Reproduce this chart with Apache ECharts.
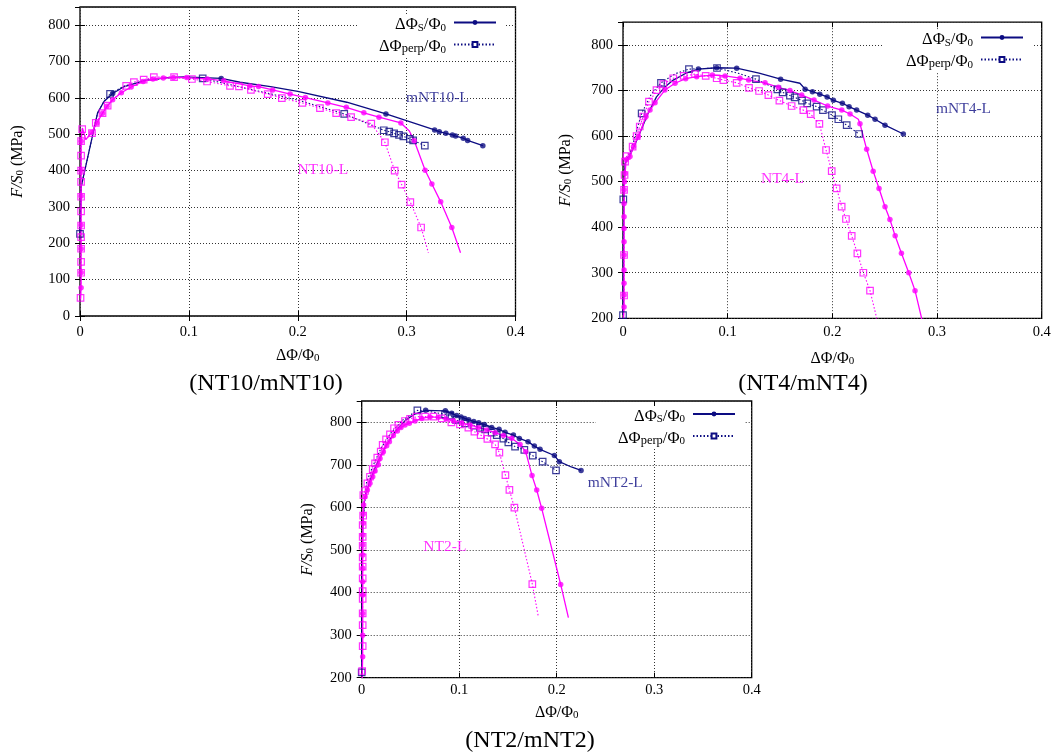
<!DOCTYPE html>
<html>
<head>
<meta charset="utf-8">
<script src="https://cdn.jsdelivr.net/npm/echarts@6/dist/echarts.min.js"></script>
<style>
html,body{margin:0;padding:0;background:#fff;}
#c{width:1054px;height:753px;}
</style>
</head>
<body>
<div id="c"></div>
<script>
// ---------- DATA ----------
// Plot 1 (NT10 / mNT10)
const mnt10S_line = [[0,226],[0.0012,357],[0.0161,558],[0.022,590],[0.030,612],[0.04,630],[0.06,648],[0.08,656],[0.095,658],[0.1297,653.5],[0.147,643],[0.175,631],[0.2,618],[0.245,588],[0.281,556],[0.3257,511.7],[0.330,507],[0.336,502.5],[0.342,498],[0.345,495],[0.352,489],[0.356,483],[0.370,468.6]];
const mnt10S_marks = [[0.030,612],[0.1297,653.5],[0.281,556],[0.3257,511.7],[0.330,507],[0.336,502.5],[0.342,498],[0.345,495],[0.352,489],[0.356,483],[0.370,468.6]];
const mnt10P_line = [[0,226],[0.0012,357],[0.0161,558],[0.022,590],[0.0276,611],[0.04,632],[0.06,648],[0.085,656],[0.1127,653.5],[0.15,628],[0.2,594],[0.2427,556],[0.279,511],[0.284,507],[0.2885,502.5],[0.293,498],[0.297,494],[0.303,487],[0.306,483],[0.3167,468.6]];
const mnt10P_marks = [[0,226],[0.0276,611],[0.1127,653.5],[0.2427,556],[0.279,511],[0.284,507],[0.2885,502.5],[0.293,498],[0.297,494],[0.303,487],[0.306,483],[0.3167,468.6]];
const nt10S_line = [[0.0005,45],[0.001,78],[0.001,120],[0.001,185],[0.001,250],[0.001,330],[0.001,400],[0.001,481],[0.0022,517],[0.0053,485],[0.0108,505],[0.0155,531],[0.0207,558],[0.0248,577],[0.030,595],[0.038,614],[0.047,630],[0.058,645],[0.067,652],[0.0765,654.5],[0.0858,656],[0.098,656],[0.117,652],[0.132,647],[0.156,633],[0.164,631],[0.177,622],[0.193,610.5],[0.207,601],[0.2276,586],[0.2446,574],[0.2607,559],[0.2746,547],[0.2947,531],[0.3025,509],[0.307,482],[0.317,401],[0.3232,363],[0.3313,314],[0.3415,243.5],[0.3495,174]];
const nt10S_marks = [[0.001,78],[0.001,120],[0.001,185],[0.001,250],[0.001,330],[0.001,400],[0.001,481],[0.0108,505],[0.0155,531],[0.0207,558],[0.0248,577],[0.030,595],[0.038,614],[0.047,630],[0.058,645],[0.067,652],[0.0765,654.5],[0.0858,656],[0.098,656],[0.117,652],[0.132,647],[0.156,633],[0.164,631],[0.177,622],[0.193,610.5],[0.207,601],[0.2276,586],[0.2446,574],[0.2607,559],[0.2746,547],[0.2947,531],[0.307,482],[0.317,401],[0.3232,363],[0.3313,314],[0.3415,243.5]];
const nt10P_line = [[0.0005,50],[0.001,119],[0.001,149],[0.001,185],[0.001,217],[0.001,249],[0.001,288],[0.001,328],[0.001,369],[0.001,400],[0.001,441],[0.001,481],[0.002,514],[0.0055,487],[0.011,503],[0.0145,531],[0.0207,558],[0.0254,578.5],[0.032,600],[0.0424,633],[0.0495,643.5],[0.0585,650],[0.0678,657],[0.0864,657],[0.1028,652],[0.1167,645],[0.1378,633],[0.146,631.5],[0.157,622],[0.1724,610.5],[0.1854,599.5],[0.2043,586],[0.2204,572],[0.2353,558],[0.249,547],[0.2675,529],[0.28,478],[0.289,400],[0.2954,361.5],[0.3034,313],[0.3133,243.5],[0.320,174]];
const nt10P_marks = [[0.0005,50],[0.001,119],[0.001,149],[0.001,185],[0.001,217],[0.001,249],[0.001,288],[0.001,328],[0.001,369],[0.001,400],[0.001,441],[0.001,481],[0.002,514],[0.011,503],[0.0145,531],[0.0207,558],[0.0254,578.5],[0.0424,633],[0.0495,643.5],[0.0585,650],[0.0678,657],[0.0864,657],[0.1028,652],[0.1167,645],[0.1378,633],[0.146,631.5],[0.157,622],[0.1724,610.5],[0.1854,599.5],[0.2043,586],[0.2204,572],[0.2353,558],[0.249,547],[0.2675,529],[0.28,478],[0.289,400],[0.2954,361.5],[0.3034,313],[0.3133,243.5]];

// Plot 2 (NT4 / mNT4)
const mnt4S_line = [[0,207],[0.0008,480],[0.002,540],[0.0067,558.5],[0.012,585],[0.016,606],[0.024,650],[0.032,686],[0.040,708],[0.048,723],[0.061,739],[0.072,747],[0.0895,750],[0.1086,749],[0.13,738],[0.1506,725],[0.169,716],[0.174,703],[0.181,697.5],[0.188,692],[0.195,686],[0.201,678.5],[0.2096,672],[0.216,664.6],[0.2232,657],[0.2338,646],[0.2408,637],[0.2503,624],[0.2678,604.6]];
const mnt4S_marks = [[0.072,747],[0.0895,750],[0.1086,749],[0.1506,725],[0.174,703],[0.181,697.5],[0.188,692],[0.195,686],[0.201,678.5],[0.2096,672],[0.216,664.6],[0.2232,657],[0.2338,646],[0.2408,637],[0.2503,624],[0.2678,604.6]];
const mnt4P_line = [[0,207],[0.0003,461],[0.002,540],[0.008,572],[0.0178,650],[0.027,692],[0.0363,717],[0.05,737],[0.063,747],[0.0898,749.5],[0.11,738],[0.127,725],[0.1475,702.7],[0.1525,696],[0.1595,689],[0.164,685],[0.171,678],[0.176,672],[0.185,664.6],[0.191,657],[0.1997,646],[0.2057,637],[0.2137,624],[0.2255,604.6]];
const mnt4P_marks = [[0,207],[0.0003,461],[0.0178,650],[0.0363,717],[0.063,747],[0.0898,749.5],[0.127,725],[0.1475,702.7],[0.1525,696],[0.1595,689],[0.164,685],[0.171,678],[0.176,672],[0.185,664.6],[0.191,657],[0.1997,646],[0.2057,637],[0.2137,624],[0.2255,604.6]];
const nt4S_line = [[0.0005,200],[0.001,225],[0.001,251],[0.001,277],[0.001,306],[0.001,339],[0.001,368],[0.001,397],[0.001,423],[0.001,452],[0.001,482],[0.0015,500],[0.002,518],[0.003,548],[0.0067,555],[0.01,577],[0.0146,599],[0.022,643],[0.0258,657],[0.0306,673],[0.040,701],[0.0497,716],[0.0599,726],[0.0704,730.5],[0.0854,734],[0.0975,732],[0.1118,727],[0.12,723],[0.1357,717],[0.1484,707],[0.1595,700],[0.1707,690],[0.1825,679],[0.1955,666],[0.209,657],[0.2169,648.5],[0.2248,637],[0.2264,627],[0.2328,571],[0.239,523],[0.2446,485],[0.2503,445],[0.255,417],[0.26,381],[0.266,342.7],[0.273,300],[0.279,260.7],[0.2853,200],[0.2883,170]];
const nt4S_marks = [[0.001,225],[0.001,251],[0.001,277],[0.001,306],[0.001,339],[0.001,368],[0.001,397],[0.001,423],[0.001,452],[0.001,482],[0.0015,500],[0.002,518],[0.003,548],[0.0067,555],[0.01,577],[0.0146,599],[0.022,643],[0.0258,657],[0.0306,673],[0.040,701],[0.0497,716],[0.0599,726],[0.0704,730.5],[0.0854,734],[0.0975,732],[0.1118,727],[0.12,723],[0.1357,717],[0.1484,707],[0.1595,700],[0.1707,690],[0.1825,679],[0.1955,666],[0.209,657],[0.2169,648.5],[0.2264,627],[0.2328,571],[0.239,523],[0.2446,485],[0.2503,445],[0.255,417],[0.26,381],[0.266,342.7],[0.273,300],[0.279,260.7]];
const nt4P_line = [[0.0005,200],[0.001,250],[0.001,339],[0.001,482],[0.0015,514.6],[0.002,544],[0.0035,556],[0.0092,577],[0.013,600],[0.016,621],[0.0194,643],[0.0248,675.6],[0.03,692],[0.032,701],[0.0385,714],[0.048,727],[0.058,732],[0.0688,736],[0.079,732],[0.0895,727],[0.0959,723],[0.1086,717],[0.1204,706],[0.13,699],[0.1389,690],[0.1494,678],[0.1611,666],[0.1723,657],[0.1793,648],[0.1876,626.6],[0.194,569.5],[0.1994,523],[0.2041,485],[0.2089,445],[0.213,418],[0.2185,381],[0.2239,342.7],[0.2296,300],[0.236,260.7],[0.2424,200],[0.2445,170]];
const nt4P_marks = [[0.001,250],[0.001,339],[0.001,482],[0.0015,514.6],[0.002,544],[0.0035,556],[0.0092,577],[0.013,600],[0.016,621],[0.0194,643],[0.0248,675.6],[0.032,701],[0.0385,714],[0.048,727],[0.058,732],[0.0688,736],[0.079,732],[0.0895,727],[0.0959,723],[0.1086,717],[0.1204,706],[0.13,699],[0.1389,690],[0.1494,678],[0.1611,666],[0.1723,657],[0.1793,648],[0.1876,626.6],[0.194,569.5],[0.1994,523],[0.2041,485],[0.2089,445],[0.213,418],[0.2185,381],[0.2239,342.7],[0.2296,300],[0.236,260.7]];

// Plot 3 (NT2 / mNT2)
const mnt2S_line = [[0,214],[0.0005,450],[0.001,560],[0.003,620],[0.008,660],[0.015,700],[0.025,745],[0.035,780],[0.045,805],[0.055,820],[0.0656,828],[0.0858,827],[0.0923,821],[0.0974,815.7],[0.1019,812.5],[0.1056,809],[0.1097,806],[0.1149,802],[0.12,799],[0.1258,795],[0.1333,788],[0.1409,783.5],[0.147,776.5],[0.1556,770],[0.1617,762],[0.1706,754.5],[0.1771,744],[0.1829,736.5],[0.1976,722],[0.2027,707.5],[0.215,695],[0.225,687]];
const mnt2S_marks = [[0.0656,828],[0.0858,827],[0.0923,821],[0.0974,815.7],[0.1019,812.5],[0.1056,809],[0.1097,806],[0.1149,802],[0.12,799],[0.1258,795],[0.1333,788],[0.1409,783.5],[0.147,776.5],[0.1556,770],[0.1617,762],[0.1706,754.5],[0.1771,744],[0.1829,736.5],[0.1976,722],[0.2027,707.5],[0.225,687]];
const mnt2P_line = [[0,212.5],[0.0005,450],[0.001,560],[0.005,660],[0.012,700],[0.02,740],[0.03,775],[0.042,805],[0.0571,828],[0.07,825],[0.0855,818.8],[0.0906,815.7],[0.0968,805.5],[0.106,797.6],[0.1152,792],[0.1214,787],[0.1265,783.5],[0.1333,775.7],[0.1385,770],[0.1453,761.6],[0.1504,753],[0.1573,742.8],[0.1668,735],[0.1754,721.6],[0.1856,707.5],[0.1993,687]];
const mnt2P_marks = [[0,212.5],[0.0571,828],[0.0855,818.8],[0.0906,815.7],[0.0968,805.5],[0.106,797.6],[0.1152,792],[0.1214,787],[0.1265,783.5],[0.1333,775.7],[0.1385,770],[0.1453,761.6],[0.1504,753],[0.1573,742.8],[0.1668,735],[0.1754,721.6],[0.1856,707.5],[0.1993,687]];
const nt2S_line = [[0.0005,200],[0.001,249],[0.001,300],[0.001,351],[0.001,394],[0.001,425.6],[0.001,457],[0.001,488],[0.001,512],[0.001,535],[0.0015,562.6],[0.0015,584],[0.002,605.7],[0.0024,609.6],[0.0034,625],[0.0058,641],[0.0085,656.6],[0.0113,672],[0.0137,685.6],[0.0171,700],[0.0188,715],[0.0222,731],[0.0256,745],[0.0284,754.5],[0.0325,768.7],[0.0366,779.6],[0.0403,787.5],[0.0444,793.7],[0.0489,797.6],[0.0547,803],[0.0615,809],[0.07,812.5],[0.0786,811.7],[0.0865,807.8],[0.094,803],[0.1026,798],[0.1111,793.7],[0.1197,788],[0.1282,782],[0.1368,775.7],[0.1453,768.7],[0.1538,762.4],[0.1624,748],[0.1682,731],[0.1747,674.7],[0.1795,641],[0.1846,597.9],[0.2041,419],[0.212,341]];
const nt2S_marks = [[0.001,249],[0.001,300],[0.001,351],[0.001,394],[0.001,425.6],[0.001,457],[0.001,488],[0.001,512],[0.001,535],[0.0015,562.6],[0.0015,584],[0.002,605.7],[0.0034,625],[0.0058,641],[0.0085,656.6],[0.0113,672],[0.0137,685.6],[0.0171,700],[0.0188,715],[0.0222,731],[0.0256,745],[0.0284,754.5],[0.0325,768.7],[0.0366,779.6],[0.0403,787.5],[0.0444,793.7],[0.0489,797.6],[0.0547,803],[0.0615,809],[0.07,812.5],[0.0786,811.7],[0.0865,807.8],[0.094,803],[0.1026,798],[0.1111,793.7],[0.1197,788],[0.1282,782],[0.1368,775.7],[0.1453,768.7],[0.1538,762.4],[0.1624,748],[0.1682,731],[0.1747,674.7],[0.1795,641],[0.1846,597.9],[0.2041,419]];
const nt2P_line = [[0.0005,200],[0.0005,215.7],[0.001,274],[0.001,323.7],[0.001,351],[0.001,385],[0.001,403.6],[0.001,433.4],[0.001,460.8],[0.001,482.8],[0.001,510],[0.001,531],[0.001,558.7],[0.0015,580.7],[0.0017,629],[0.0034,638.6],[0.0058,656.6],[0.0085,672],[0.0113,690],[0.0137,703.6],[0.016,717],[0.0195,731],[0.0215,746.7],[0.025,760],[0.029,771.8],[0.0332,786],[0.0376,793.7],[0.0444,803],[0.0496,808],[0.0564,813.3],[0.065,813.3],[0.0735,813.3],[0.082,809.4],[0.092,800],[0.1008,795],[0.1094,787.5],[0.1156,778],[0.122,770],[0.1289,760.8],[0.1368,748],[0.1412,728.7],[0.1474,676],[0.1515,641],[0.1566,599.5],[0.175,420],[0.1812,343]];
const nt2P_marks = [[0.0005,215.7],[0.001,274],[0.001,323.7],[0.001,351],[0.001,385],[0.001,403.6],[0.001,433.4],[0.001,460.8],[0.001,482.8],[0.001,510],[0.001,531],[0.001,558.7],[0.0015,580.7],[0.0017,629],[0.0034,638.6],[0.0058,656.6],[0.0085,672],[0.0113,690],[0.0137,703.6],[0.016,717],[0.0195,731],[0.0215,746.7],[0.025,760],[0.029,771.8],[0.0332,786],[0.0376,793.7],[0.0444,803],[0.0496,808],[0.0564,813.3],[0.065,813.3],[0.0735,813.3],[0.082,809.4],[0.092,800],[0.1008,795],[0.1094,787.5],[0.1156,778],[0.122,770],[0.1289,760.8],[0.1368,748],[0.1412,728.7],[0.1474,676],[0.1515,641],[0.1566,599.5],[0.175,420]];

// Curve annotations [text, x, y]
const labels10 = [['mNT10-L',0.2994,598.6],['NT10-L',0.1997,401]];
const labels4 = [['mNT4-L',0.299,658.8],['NT4-L',0.1318,507]];
const labels2 = [['mNT2-L',0.2318,656.6],['NT2-L',0.0632,507.8]];

// Panel titles and axis ranges
const panelTitles = ['(NT10/mNT10)','(NT4/mNT4)','(NT2/mNT2)'];
const yMins = [0,200,200];
const yMax = 850;
const xTicks = {min:0, max:0.4, interval:0.1};

// ---------- CHART ----------
const FONT = "'Liberation Serif','DejaVu Serif','Times New Roman',serif";
const NAVY = '#0c0c82';
const MAG = '#ff00ff';

const grids = [
  {left:80, right:538.5, top:7, bottom:437},
  {left:623, right:12.3, top:22.2, bottom:434.7},
  {left:361.7, right:302.3, top:401, bottom:75.3}
];
const xNameGap = [28,28,23];
const xLabelMargin = [9,6,5];
const yNameGap = [54,49,46];
const legendPos = [{right:549, top:14.5},{right:22, top:29.5},{right:310, top:406}];
const titlePos = [[266,384],[803,384],[530,741]];

const richMain = {
  m:{fontFamily:FONT,fontSize:16.5,lineHeight:22,verticalAlign:'bottom',color:'#000'},
  s:{fontFamily:FONT,fontSize:11,lineHeight:14,verticalAlign:'bottom',color:'#000'},
  p:{fontFamily:FONT,fontSize:12.5,lineHeight:14,verticalAlign:'bottom',color:'#000'},
  e:{fontFamily:FONT,fontSize:11,lineHeight:14,verticalAlign:'bottom',color:'#000',padding:[0,3,0,0]}
};
const richAxis = {
  m:{fontFamily:FONT,fontSize:16,lineHeight:20,verticalAlign:'bottom',color:'#000'},
  i:{fontFamily:FONT,fontSize:16,lineHeight:20,verticalAlign:'bottom',color:'#000',fontStyle:'italic'},
  s:{fontFamily:FONT,fontSize:11,lineHeight:13,verticalAlign:'bottom',color:'#000'}
};

function lineS(name, data, gi, color, dotted){
  return {type:'line', name, xAxisIndex:gi, yAxisIndex:gi, data,
    showSymbol:false, symbol: dotted ? 'rect' : 'circle', silent:true,
    lineStyle:{color, width: dotted ? 1.1 : 1.3, type: dotted ? [1.5,2] : 'solid'},
    itemStyle: dotted ? {color:'#fff', borderColor:color, borderWidth:1.2} : {color},
    z:2, animation:false};
}
function markS(name, data, gi, color, square){
  return {type:'scatter', name, xAxisIndex:gi, yAxisIndex:gi, data, silent:true,
    symbol: square ? 'rect' : 'circle', symbolSize: square ? 6.5 : 5.5,
    itemStyle: square ? {color:'rgba(255,255,255,0)', borderColor:color, borderWidth:1.2} : {color},
    z:3, animation:false};
}
function labelS(arr, gi){
  return arr.map(([t,x,y]) => ({type:'scatter', name:'lbl_'+t, xAxisIndex:gi, yAxisIndex:gi, silent:true,
    data:[[x,y]], symbolSize:0, z:4,
    label:{show:true, position:'right', distance:0, formatter:t, fontFamily:FONT, fontSize:15.5,
      color: t.charAt(0)==='m' ? NAVY : MAG}}));
}

const panels = [
  {mS:[mnt10S_line,mnt10S_marks], mP:[mnt10P_line,mnt10P_marks], nS:[nt10S_line,nt10S_marks], nP:[nt10P_line,nt10P_marks], lbl:labels10},
  {mS:[mnt4S_line,mnt4S_marks], mP:[mnt4P_line,mnt4P_marks], nS:[nt4S_line,nt4S_marks], nP:[nt4P_line,nt4P_marks], lbl:labels4},
  {mS:[mnt2S_line,mnt2S_marks], mP:[mnt2P_line,mnt2P_marks], nS:[nt2S_line,nt2S_marks], nP:[nt2P_line,nt2P_marks], lbl:labels2}
];

const series = [];
panels.forEach((p, gi) => {
  series.push(lineS('S', p.mS[0], gi, NAVY, false));
  series.push(lineS('perp', p.mP[0], gi, NAVY, true));
  series.push(markS('mS_m'+gi, p.mS[1], gi, NAVY, false));
  series.push(markS('mP_m'+gi, p.mP[1], gi, NAVY, true));
  series.push(lineS('nS'+gi, p.nS[0], gi, MAG, false));
  series.push(lineS('nP'+gi, p.nP[0], gi, MAG, true));
  series.push(markS('nS_m'+gi, p.nS[1], gi, MAG, false));
  series.push(markS('nP_m'+gi, p.nP[1], gi, MAG, true));
  labelS(p.lbl, gi).forEach(s => series.push(s));
});

const splitLineStyle = {show:true, lineStyle:{color:'#333', width:1, type:[1,2]}};
const tickStyle = {show:true, inside:true, length:5, lineStyle:{color:'#000', width:1}};

const xMain = grids.map((g, i) => ({
  type:'value', gridIndex:i, position:'bottom', min:xTicks.min, max:xTicks.max, interval:xTicks.interval,
  name:'{m|ΔΦ/Φ}{s|0}', nameLocation:'middle', nameGap:xNameGap[i],
  nameTextStyle:{rich:richAxis},
  axisLine:{show:false}, axisTick:tickStyle,
  axisLabel:{margin:xLabelMargin[i], fontFamily:FONT, fontSize:14.5, color:'#000'},
  splitLine:splitLineStyle
}));
const xMirror = grids.map((g, i) => ({
  type:'value', gridIndex:i, position:'top', min:xTicks.min, max:xTicks.max, interval:xTicks.interval,
  axisLine:{show:false}, axisTick:tickStyle, axisLabel:{show:false}, splitLine:{show:false}
}));
const yMain = grids.map((g, i) => ({
  type:'value', gridIndex:i, position:'left', min:yMins[i], max:yMax, interval:100,
  name:'{i|F/S}{s|0}{m| (MPa)}', nameLocation:'middle', nameRotate:90, nameGap:yNameGap[i],
  nameTextStyle:{rich:richAxis},
  axisLine:{show:false}, axisTick:tickStyle,
  axisLabel:{margin:10, fontFamily:FONT, fontSize:14.5, color:'#000', showMaxLabel:false,
    formatter: v => (v === yMax ? '' : String(v))},
  splitLine:splitLineStyle
}));
const yMirror = grids.map((g, i) => ({
  type:'value', gridIndex:i, position:'right', min:yMins[i], max:yMax, interval:100,
  axisLine:{show:false}, axisTick:tickStyle, axisLabel:{show:false}, splitLine:{show:false}
}));

const option = {
  animation:false,
  backgroundColor:'#fff',
  textStyle:{fontFamily:FONT},
  grid: grids.map(g => Object.assign({show:true, borderColor:'#000', borderWidth:1.3, backgroundColor:'transparent', containLabel:false}, g)),
  xAxis: xMain.concat(xMirror),
  yAxis: yMain.concat(yMirror),
  legend: legendPos.map(lp => ({
    orient:'vertical', align:'right', right:lp.right, top:lp.top,
    data:['S','perp'], selectedMode:false,
    itemWidth:42, itemHeight:6, itemGap:5,
    padding:[2,8,2,22], backgroundColor:'#fff',
    formatter: n => n === 'S' ? '{m|ΔΦ}{s|S}{m|/Φ}{e|0}' : '{m|ΔΦ}{p|perp}{m|/Φ}{e|0}',
    textStyle:{rich:richMain}
  })),
  graphic: panelTitles.map((t, i) => ({
    type:'text', x:titlePos[i][0], y:titlePos[i][1], silent:true,
    style:{text:t, fontFamily:FONT, fontSize:24, fill:'#000', align:'center', verticalAlign:'middle'}
  })),
  series
};

const chart = echarts.init(document.getElementById('c'), null, {renderer:'canvas'});
chart.setOption(option);
</script>
</body>
</html>
